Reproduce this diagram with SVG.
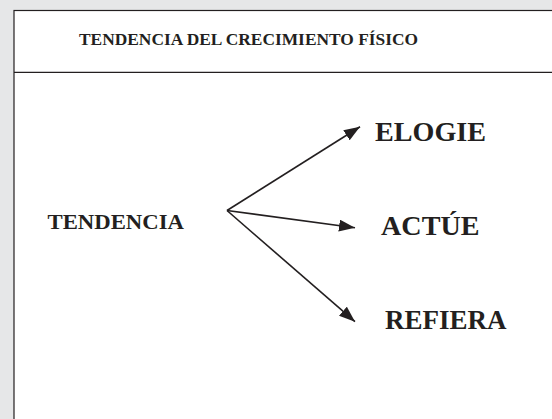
<svg xmlns="http://www.w3.org/2000/svg" width="552" height="419" viewBox="0 0 552 419">
<style>
.t{font-family:"Liberation Serif","Times New Roman",serif;font-weight:bold;fill:#231f20}
.c{stroke:#231f20;stroke-width:1.6;fill:none}
</style>
<defs>
<marker id="ah" viewBox="0 0 16 12" refX="16" refY="6" markerWidth="16" markerHeight="12" markerUnits="userSpaceOnUse" orient="auto">
<path d="M0,0 L16,6 L0,12 Z" fill="#231f20"/>
</marker>
</defs>
<rect width="552" height="419" fill="#e6e7e8"/>
<g id="frame">
<rect x="14" y="10.5" width="560" height="430" fill="#fff" stroke="#231f20" stroke-width="1.2"/>
<line x1="14" y1="72.3" x2="552" y2="72.3" stroke="#231f20" stroke-width="1.2"/>
</g>
<g id="title"><text class="t" x="79" y="44.5" font-size="16.5" textLength="339" lengthAdjust="spacingAndGlyphs">TENDENCIA DEL CRECIMIENTO FÍSICO</text></g>
<g id="tendencia"><text class="t" x="47.5" y="228.5" font-size="20" textLength="136.5" lengthAdjust="spacingAndGlyphs">TENDENCIA</text></g>
<g id="elogie"><text class="t" x="375" y="140.5" font-size="26.5" textLength="111" lengthAdjust="spacingAndGlyphs">ELOGIE</text></g>
<g id="actue"><text class="t" x="381" y="235" font-size="26.5" textLength="98.5" lengthAdjust="spacingAndGlyphs">ACTÚE</text></g>
<g id="refiera"><text class="t" x="385" y="328.5" font-size="26.5" textLength="121.5" lengthAdjust="spacingAndGlyphs">REFIERA</text></g>
<g id="connectors">
<line class="c" x1="227" y1="210.5" x2="360" y2="126.7" marker-end="url(#ah)"/>
<line class="c" x1="227" y1="210.5" x2="355" y2="227.7" marker-end="url(#ah)"/>
<line class="c" x1="227" y1="210.5" x2="355" y2="321.7" marker-end="url(#ah)"/>
</g>
</svg>
